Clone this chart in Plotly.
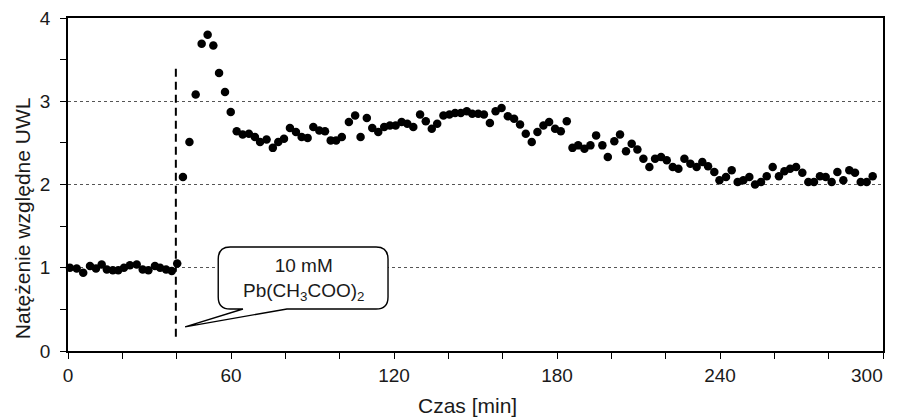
import plotly.graph_objects as go

# --- data ---
time_min = [0.7, 3.2, 5.6, 8.1, 10.3, 12.4, 14.3, 16.5, 18.5, 20.6, 22.8, 25.3, 27.5, 29.6, 32.0, 33.9, 36.1, 38.2, 40.2,
            42.3, 44.7, 47.0, 49.2, 51.4, 53.5, 55.6, 57.8, 59.9, 62.1, 64.3, 66.6, 68.8, 70.7, 73.1, 75.4, 77.4, 79.5,
            81.7, 83.9, 86.0, 88.2, 90.3, 92.5, 94.6, 96.7, 98.7, 100.8, 103.4, 105.7, 107.7, 110.0, 112.0, 114.2,
            116.4, 118.5, 120.6, 122.8, 124.9, 127.1, 129.6, 131.7, 133.9, 135.9, 138.2, 140.4, 142.5, 144.6, 146.8,
            148.8, 151.0, 153.1, 155.3, 157.4, 159.6, 161.9, 164.2, 166.4, 168.5, 170.7, 172.8, 175.0, 177.1, 179.3,
            181.4, 183.6, 185.7, 187.8, 190.1, 192.3, 194.4, 196.7, 198.7, 201.1, 203.2, 205.4, 207.5, 209.6, 211.8,
            214.0, 216.1, 218.3, 220.4, 222.6, 224.7, 226.9, 229.1, 231.4, 233.5, 235.6, 237.9, 239.8, 242.2, 244.3,
            246.5, 248.6, 250.8, 252.9, 255.1, 257.2, 259.4, 261.7, 263.7, 265.8, 268.0, 270.3, 272.5, 274.6, 276.8,
            278.9, 281.1, 283.2, 285.4, 287.6, 289.7, 291.8, 294.0, 296.2]
intensity = [1.00, 0.99, 0.94, 1.02, 0.99, 1.04, 0.98, 0.97, 0.97, 1.00, 1.03, 1.04, 0.98, 0.97, 1.02, 1.00, 0.98, 0.96, 1.05,
             2.09, 2.51, 3.08, 3.69, 3.80, 3.67, 3.34, 3.11, 2.87, 2.64, 2.60, 2.61, 2.57, 2.51, 2.54, 2.44, 2.51, 2.55,
             2.68, 2.63, 2.57, 2.56, 2.69, 2.65, 2.64, 2.53, 2.53, 2.57, 2.75, 2.83, 2.57, 2.80, 2.68, 2.63,
             2.69, 2.71, 2.71, 2.75, 2.73, 2.69, 2.84, 2.76, 2.67, 2.73, 2.83, 2.84, 2.86, 2.86, 2.88,
             2.85, 2.85, 2.84, 2.74, 2.88, 2.92, 2.82, 2.79, 2.72, 2.61, 2.51, 2.63, 2.71, 2.75, 2.67,
             2.64, 2.76, 2.44, 2.47, 2.43, 2.47, 2.59, 2.47, 2.33, 2.52, 2.60, 2.40, 2.49, 2.42, 2.31,
             2.21, 2.31, 2.33, 2.29, 2.21, 2.19, 2.31, 2.25, 2.21, 2.27, 2.22, 2.15, 2.05, 2.09, 2.17,
             2.03, 2.05, 2.09, 2.00, 2.03, 2.10, 2.21, 2.10, 2.16, 2.19, 2.21, 2.14, 2.03, 2.03, 2.10,
             2.09, 2.03, 2.15, 2.05, 2.17, 2.14, 2.03, 2.03, 2.10]

x_ticks = [0, 60, 120, 180, 240, 300]
y_ticks = [0, 1, 2, 3, 4]
injection_time = 39.7
callout_text = "10 mM<br>Pb(CH<sub>3</sub>COO)<sub>2</sub>"
x_title = "Czas [min]"
y_title = "Natężenie względne UWL"

FONT = "Arial, 'Liberation Sans', sans-serif"
TXT = "#1a1a1a"

fig = go.Figure()
fig.add_trace(go.Scatter(
    x=time_min, y=intensity, mode="markers",
    marker=dict(color="black", size=8.5, line=dict(width=0)),
    showlegend=False, cliponaxis=False))

# dashed injection marker
fig.add_shape(type="line", xref="x", yref="y", x0=injection_time, x1=injection_time,
              y0=0.17, y1=3.44, line=dict(color="black", width=2, dash="8px,5px"), layer="above")

# callout balloon (data coords)
L, R, T, B = 55.3, 117.8, 1.25, 0.505
rx, ry = 4.4, 0.145
t1, t2, tipx, tipy = 64.4, 80.6, 43.1, 0.29
path = (f"M {L+rx},{T} L {R-rx},{T} Q {R},{T} {R},{T-ry} L {R},{B+ry} Q {R},{B} {R-rx},{B} "
        f"L {t2},{B} L {tipx},{tipy} L {t1},{B} L {L+rx},{B} Q {L},{B} {L},{B+ry} L {L},{T-ry} Q {L},{T} {L+rx},{T} Z")
fig.add_shape(type="path", path=path, xref="x", yref="y", fillcolor="white",
              line=dict(color="black", width=1.4), layer="above")
fig.add_annotation(x=(L + R) / 2, y=(T + B) / 2, xref="x", yref="y", text=callout_text,
                   showarrow=False, font=dict(family=FONT, size=19, color=TXT), align="center", yshift=-2)

# axis titles
fig.add_annotation(x=0.49, y=-0.165, xref="paper", yref="paper", text=x_title, showarrow=False,
                   font=dict(family=FONT, size=21, color=TXT), xanchor="center", yanchor="middle")
fig.add_annotation(x=-0.056, y=0.40, xref="paper", yref="paper", text=y_title, showarrow=False,
                   textangle=-90, font=dict(family=FONT, size=21, color=TXT), xanchor="center", yanchor="middle")
# last x tick label is pulled inward in the reference
fig.add_annotation(x=x_ticks[-1], y=0, xref="x", yref="paper", text=str(x_ticks[-1]), showarrow=False,
                   font=dict(family=FONT, size=19, color=TXT), xanchor="center", yanchor="top",
                   xshift=-16, yshift=-12)

fig.update_xaxes(range=[0, 300], tickvals=x_ticks, ticktext=[str(v) for v in x_ticks[:-1]] + [""],
                 ticks="outside", ticklen=6, tickwidth=1.3, tickcolor="black",
                 minor=dict(dtick=20, ticks="outside", ticklen=6, tickwidth=1.3, tickcolor="black", showgrid=False),
                 showline=True, linecolor="black", linewidth=1.6, mirror=True,
                 showgrid=False, zeroline=False, automargin=False,
                 tickfont=dict(family=FONT, size=19, color=TXT))
fig.update_yaxes(range=[0, 4], tickvals=y_ticks, ticktext=[str(v) for v in y_ticks],
                 ticks="outside", ticklen=6, tickwidth=1.3, tickcolor="black", ticklabelstandoff=6,
                 minor=dict(dtick=0.5, ticks="outside", ticklen=6, tickwidth=1.3, tickcolor="black", showgrid=False),
                 showline=True, linecolor="black", linewidth=1.6, mirror=True,
                 showgrid=True, gridcolor="#555", griddash="dot", gridwidth=1,
                 zeroline=False, automargin=False,
                 tickfont=dict(family=FONT, size=19, color=TXT))

fig.update_layout(width=901, height=418, margin=dict(l=68, r=18, t=18, b=67),
                  plot_bgcolor="white", paper_bgcolor="white")

fig.write_html("out.html", config={"displayModeBar": False},
               post_script="document.body.style.margin='0';document.body.style.overflow='hidden';")
